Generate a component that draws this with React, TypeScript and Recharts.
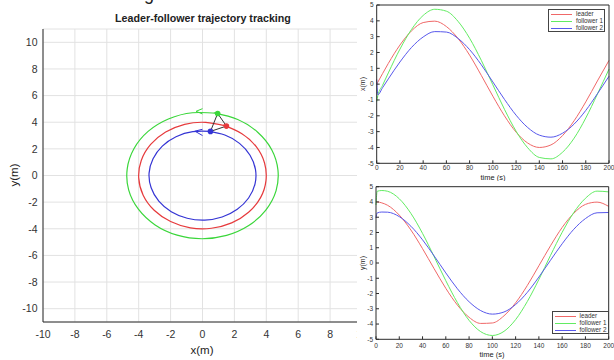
import React from "react";
import { ComposedChart, LineChart, Line, XAxis, YAxis, CartesianGrid } from "recharts";

// sample times (s)
const times = [0, 1, 5, 10, 20, 30, 40, 50, 60, 70, 80, 90, 100, 110, 120, 130, 140, 150, 160, 170, 180, 190, 200];

const leaderX = [0, 0.13, 0.66, 1.31, 2.47, 3.37, 3.89, 3.98, 3.64, 2.89, 1.83, 0.56, -0.76, -2.0, -3.03, -3.72, -4.0, -3.84, -3.25, -2.31, -1.12, 0.2, 1.5];
const leaderY = [4.0, 4.0, 3.94, 3.78, 3.14, 2.16, 0.94, -0.38, -1.66, -2.76, -3.56, -3.96, -3.93, -3.46, -2.61, -1.48, -0.18, 1.13, 2.33, 3.26, 3.84, 3.99, 3.71];
const f1X = [-1.1, -0.71, -0.08, 0.71, 2.21, 3.46, 4.34, 4.73, 4.61, 3.97, 2.9, 1.51, -0.04, -1.59, -2.97, -4.02, -4.63, -4.72, -4.3, -3.41, -2.14, -0.63, 0.95];
const f1Y = [3.8, 4.7, 4.75, 4.7, 4.21, 3.25, 1.94, 0.41, -1.16, -2.6, -3.76, -4.5, -4.75, -4.48, -3.71, -2.53, -1.08, 0.5, 2.01, 3.31, 4.24, 4.71, 4.66];
const f2X = [0.3, -0.67, -0.23, 0.33, 1.4, 2.32, 2.98, 3.32, 3.29, 2.89, 2.18, 1.23, 0.14, -0.96, -1.96, -2.74, -3.22, -3.35, -3.1, -2.52, -1.66, -0.61, 0.5];
const f2Y = [2.95, 3.28, 3.34, 3.33, 3.04, 2.41, 1.52, 0.46, -0.65, -1.69, -2.54, -3.12, -3.35, -3.21, -2.72, -1.93, -0.92, 0.18, 1.26, 2.21, 2.91, 3.29, 3.31];

// small arrow marks on the trajectory plot
const arrowF1 = [{ x: 0, y: 5.02 }, { x: -0.4, y: 4.82 }, { x: 0, y: 4.62 }];
const arrowF2 = [{ x: 0, y: 3.47 }, { x: -0.48, y: 3.33 }, { x: 0, y: 3.0 }];

const xyTicks = [-10, -8, -6, -4, -2, 0, 2, 4, 6, 8, 10];
const timeTicks = [0, 20, 40, 60, 80, 100, 120, 140, 160, 180, 200];
const posTicks = [-5, -4, -3, -2, -1, 0, 1, 2, 3, 4, 5];

const series = [
  { key: "leader", name: "leader", dark: "#e63a3c", light: "#f06868" },
  { key: "f1", name: "follower 1", dark: "#3ad63a", light: "#62ec62" },
  { key: "f2", name: "follower 2", dark: "#3434d4", light: "#5858ec" },
];

const path = (xs: number[], ys: number[]) => xs.slice(3).map((x, i) => ({ x, y: ys[i + 3] }));
const lastPt = (xs: number[], ys: number[]) => ({ x: xs[xs.length - 1], y: ys[ys.length - 1] });

const paths = [path(leaderX, leaderY), path(f1X, f1Y), path(f2X, f2Y)];
const ends = [lastPt(leaderX, leaderY), lastPt(f1X, f1Y), lastPt(f2X, f2Y)];
const triangle = [ends[0], ends[1], ends[2], ends[0]];

const xRows = times.map((t, i) => ({ t, leader: leaderX[i], f1: f1X[i], f2: f2X[i] }));
const yRows = times.map((t, i) => ({ t, leader: leaderY[i], f1: f1Y[i], f2: f2Y[i] }));

const FONT = "'Liberation Sans', Arial, sans-serif";
const AX = "#2b2b2b";

const Txt = ({ x, y, size, children, bold, rotate }: any) => (
  <div
    style={{
      position: "absolute",
      left: x,
      top: y,
      transform: `translate(-50%, -50%)${rotate ? " rotate(-90deg)" : ""}`,
      fontSize: size,
      fontWeight: bold ? 700 : 400,
      color: "#222",
      whiteSpace: "nowrap",
      lineHeight: 1,
    }}
  >
    {children}
  </div>
);

const LegendBox = ({ left, top }: { left: number; top: number }) => (
  <div
    style={{
      position: "absolute",
      left,
      top,
      width: 57,
      height: 23,
      border: "1px solid #444",
      background: "#fff",
      fontSize: 6.3,
      color: "#333",
      paddingTop: 1,
      boxSizing: "border-box",
    }}
  >
    {series.map((s) => (
      <div key={s.key} style={{ height: 7, display: "flex", alignItems: "center" }}>
        <div style={{ width: 21, height: 1, background: s.light, marginLeft: 2, marginRight: 4 }} />
        <span style={{ lineHeight: 1 }}>{s.name}</span>
      </div>
    ))}
  </div>
);

const TimePlot = ({ rows, width, height, margin, tickMargin }: any) => (
  <LineChart width={width} height={height} data={rows} margin={margin}>
    <XAxis
      type="number"
      dataKey="t"
      domain={[0, 200]}
      ticks={timeTicks}
      interval={0}
      height={12}
      tickSize={-3}
      tickMargin={tickMargin}
      stroke={AX}
      tick={{ fontSize: 6.5, fill: "#333" }}
    />
    <XAxis
      xAxisId="top"
      orientation="top"
      type="number"
      dataKey="t"
      domain={[0, 200]}
      ticks={timeTicks}
      interval={0}
      height={1}
      tickSize={-3}
      tick={false}
      stroke={AX}
    />
    <YAxis
      type="number"
      domain={[-5, 5]}
      ticks={posTicks}
      interval={0}
      width={16}
      tickSize={-3}
      tickMargin={6}
      stroke={AX}
      tick={{ fontSize: 6.5, fill: "#333" }}
    />
    <YAxis
      yAxisId="right"
      orientation="right"
      type="number"
      domain={[-5, 5]}
      ticks={posTicks}
      interval={0}
      width={1}
      tickSize={-3}
      tick={false}
      stroke={AX}
    />
    {series.map((s) => (
      <Line
        key={s.key}
        dataKey={s.key}
        type="monotone"
        stroke={s.light}
        strokeWidth={1}
        dot={false}
        isAnimationActive={false}
      />
    ))}
  </LineChart>
);

export default function App() {
  return (
    <div
      style={{
        position: "absolute",
        left: 0,
        top: 0,
        width: 614,
        height: 360,
        overflow: "hidden",
        background: "#fff",
        fontFamily: FONT,
      }}
    >
      {/* fragment of caption above */}
      <div style={{ position: "absolute", left: 144, top: -15, fontSize: 18, color: "#222", lineHeight: 1 }}>g</div>

      <div style={{ position: "absolute", left: 0, top: 0 }}>
        <ComposedChart width={370} height={360} margin={{ top: 29, right: 8, bottom: 8, left: 13 }}>
          <CartesianGrid stroke="#e2e2e2" />
          <XAxis
            type="number"
            dataKey="x"
            domain={[-10, 10]}
            ticks={xyTicks}
            interval={0}
            height={30}
            tickSize={0}
            tickMargin={9}
            stroke={AX}
            tick={{ fontSize: 10.5, fill: "#333" }}
            allowDataOverflow
          />
          <YAxis
            type="number"
            dataKey="y"
            domain={[-11, 11]}
            ticks={xyTicks}
            interval={0}
            width={30}
            tickSize={0}
            tickMargin={5.5}
            stroke={AX}
            tick={{ fontSize: 10.5, fill: "#333" }}
            allowDataOverflow
          />
          {series.map((s, i) => (
            <Line
              key={s.key}
              data={paths[i]}
              dataKey="y"
              type="natural"
              stroke={s.dark}
              strokeWidth={1.2}
              dot={false}
              isAnimationActive={false}
            />
          ))}
          <Line data={arrowF1} dataKey="y" type="linear" stroke={series[1].dark} strokeWidth={1} dot={false} isAnimationActive={false} />
          <Line data={arrowF2} dataKey="y" type="linear" stroke={series[2].dark} strokeWidth={1} dot={false} isAnimationActive={false} />
          <Line data={triangle} dataKey="y" type="linear" stroke="#333" strokeWidth={1} dot={false} isAnimationActive={false} />
          {series.map((s, i) => (
            <Line
              key={"end-" + s.key}
              data={[ends[i]]}
              dataKey="y"
              stroke={s.dark}
              dot={{ r: 2.8, fill: s.dark, stroke: s.dark, strokeWidth: 0 }}
              isAnimationActive={false}
            />
          ))}
        </ComposedChart>
      </div>
      <Txt x={203} y={18} size={10.7} bold>
        Leader-follower trajectory tracking
      </Txt>
      <Txt x={202} y={351} size={11.5}>x(m)</Txt>
      <Txt x={15} y={175} size={11.5} rotate>y(m)</Txt>

      {/* x(t) panel */}
      <div style={{ position: "absolute", left: 357, top: 0, width: 257, height: 181, overflow: "hidden", background: "#fff" }}>
        <TimePlot rows={xRows} width={257} height={181} margin={{ top: 4, right: 4, bottom: 5.7, left: 3.7 }} tickMargin={5.5} />
        <Txt x={136} y={178} size={7.5}>time (s)</Txt>
        <Txt x={4.5} y={84} size={7} rotate>x(m)</Txt>
        <LegendBox left={191} top={9} />
      </div>

      {/* y(t) panel */}
      <div style={{ position: "absolute", left: 357, top: 181, width: 257, height: 179, overflow: "hidden", background: "#fff" }}>
        <TimePlot rows={yRows} width={257} height={179} margin={{ top: 4.7, right: 4.3, bottom: 8.7, left: 3 }} tickMargin={7} />
        <Txt x={135} y={174} size={7.5}>time (s)</Txt>
        <Txt x={4.5} y={82} size={7} rotate>y(m)</Txt>
        <LegendBox left={194.5} top={129.5} />
      </div>
    </div>
  );
}
